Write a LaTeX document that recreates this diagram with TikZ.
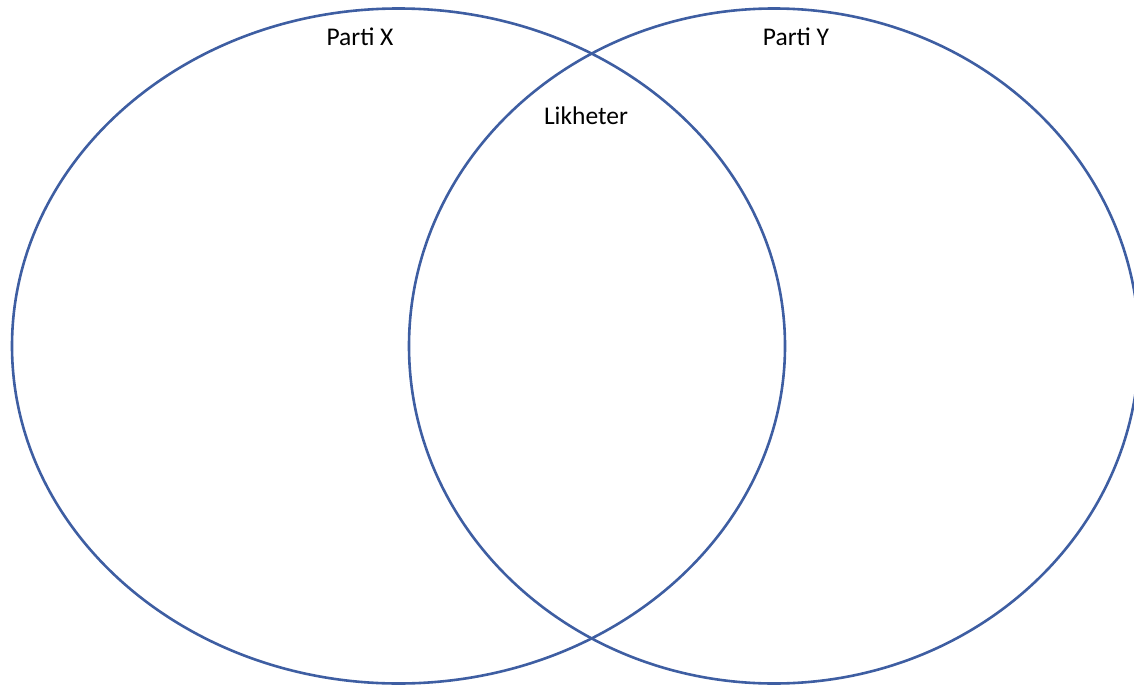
\documentclass[tikz,border=0pt]{standalone}
\usepackage{fontspec}
\setmainfont{Carlito}
\definecolor{venn}{RGB}{62,94,162}
\begin{document}
\begin{tikzpicture}[x=1pt,y=-1pt,
  ring/.style={draw=venn,line width=2.6pt},
  lbl/.style={font=\fontsize{25.5}{28}\selectfont,text=black,inner sep=0pt}]
\useasboundingbox (0,0) rectangle (1134,685);
\draw[ring] (398.5,346) ellipse [x radius=386.5, y radius=337.5];
\draw[ring] (774,346) ellipse [x radius=365, y radius=337.5];
\node[lbl,anchor=base] (px) at (360,46) {Parti X};
\node[lbl,anchor=base] (py) at (796,46) {Parti Y};
\node[lbl,anchor=base] (lk) at (586,124) {Likheter};
\end{tikzpicture}
\end{document}
